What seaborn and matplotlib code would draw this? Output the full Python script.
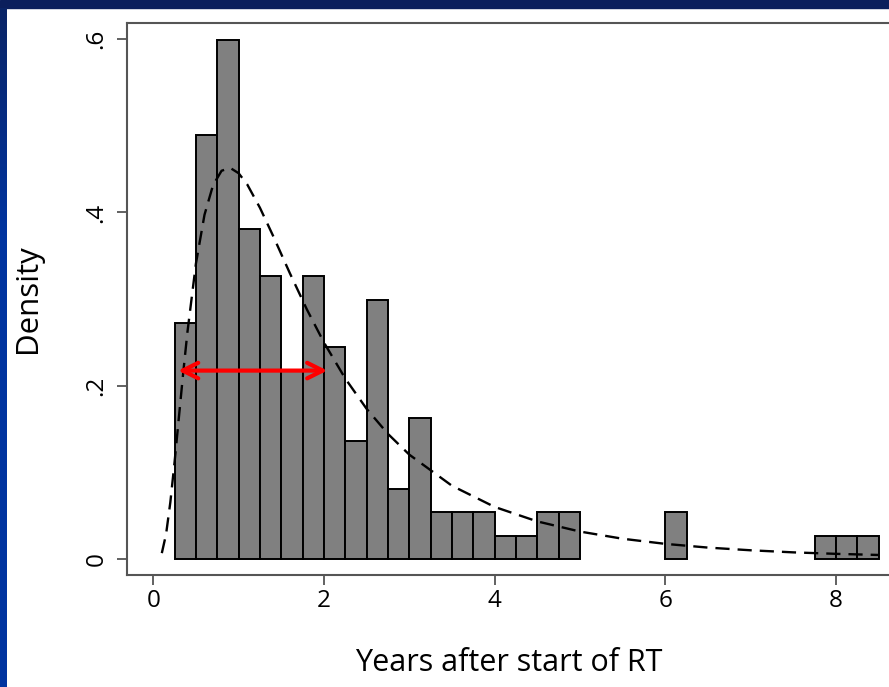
import numpy as np
import pandas as pd
import matplotlib
matplotlib.use("Agg")
import matplotlib.pyplot as plt
import seaborn as sns
from matplotlib.patches import Rectangle
from matplotlib.colors import LinearSegmentedColormap

# Histogram: left edge of each occupied 0.25-year bin and its patient count
bin_left = [0.25, 0.50, 0.75, 1.00, 1.25, 1.50, 1.75, 2.00, 2.25, 2.50, 2.75,
            3.00, 3.25, 3.50, 3.75, 4.00, 4.25, 4.50, 4.75, 6.00, 7.75, 8.00, 8.25]
bin_count = [10, 18, 22, 14, 12, 8, 12, 9, 5, 11, 3,
             6, 2, 2, 2, 1, 1, 2, 2, 2, 1, 1, 1]
BIN_WIDTH = 0.25

# Fitted density curve (dashed)
curve_x = [0.10, 0.15, 0.20, 0.25, 0.30, 0.35, 0.40, 0.50, 0.60, 0.70, 0.80,
           0.90, 1.00, 1.10, 1.25, 1.40, 1.60, 1.80, 2.00, 2.25, 2.50, 2.75,
           3.00, 3.50, 4.00, 4.50, 5.00, 5.50, 6.00, 6.50, 7.00, 7.50, 8.00, 8.50]
curve_y = [0.0071, 0.0290, 0.0659, 0.1126, 0.1636, 0.2143, 0.2618, 0.3412,
           0.3972, 0.4313, 0.4480, 0.4514, 0.4452, 0.4324, 0.4053, 0.3738,
           0.3300, 0.2881, 0.2500, 0.2084, 0.1735, 0.1446, 0.1207, 0.0848,
           0.0604, 0.0437, 0.0320, 0.0237, 0.0178, 0.0135, 0.0104, 0.0080,
           0.0063, 0.0050]

# Red double arrow marking the spread
spread_x = [0.29, 2.04]
spread_y = 0.2176

x_ticks = [0, 2, 4, 6, 8]
x_tick_labels = ["0", "2", "4", "6", "8"]
y_ticks = [0, 0.2, 0.4, 0.6]
y_tick_labels = ["0", ".2", ".4", ".6"]

sns.set_style("ticks")
plt.rcParams["font.family"] = ["Open Sans", "DejaVu Sans"]

W, H = 889, 687
fig = plt.figure(figsize=(W / 100, H / 100), dpi=100, facecolor="white")
ax = fig.add_axes([127 / W, 112 / H, 764 / W, 552 / H])
ax.set_facecolor("white")

hist_df = pd.DataFrame({"years": np.array(bin_left) + BIN_WIDTH / 2,
                        "n": bin_count})
sns.histplot(data=hist_df, x="years", weights="n", binwidth=BIN_WIDTH,
             binrange=(bin_left[0], bin_left[-1] + BIN_WIDTH), stat="density",
             color="#808080", edgecolor="black", linewidth=1.4, alpha=1,
             ax=ax, zorder=2)
for p in list(ax.patches):
    if p.get_height() <= 0:
        p.remove()

sns.lineplot(x=curve_x, y=curve_y, color="black", lw=1.7,
             linestyle=(0, (6, 3.4)), ax=ax, zorder=3)

ax.annotate("", xy=(spread_x[0], spread_y), xytext=(spread_x[1], spread_y),
            arrowprops=dict(arrowstyle="<->", color="#ff0000", lw=3,
                            mutation_scale=28, shrinkA=0, shrinkB=0),
            zorder=4)

ax.set_xlim(-0.308, 8.645)
ax.set_ylim(-0.0181, 0.6184)
ax.set_xticks(x_ticks, x_tick_labels)
ax.set_yticks(y_ticks, y_tick_labels)
for lab in ax.get_yticklabels():
    lab.set_rotation(90)
    lab.set_va("center")
ax.tick_params(axis="both", length=7.2, width=1.3, color="#555555",
               labelsize=17.5, labelcolor="black")
ax.tick_params(axis="x", pad=3)
ax.tick_params(axis="y", pad=6)
for s in ax.spines.values():
    s.set_color("#555555")
    s.set_linewidth(1.5)

ax.set_xlabel("Years after start of RT", fontsize=22, color="black")
ax.set_ylabel("Density", fontsize=22.5, color="black")
ax.xaxis.label.set_va("center")
ax.yaxis.label.set_va("center")
ax.xaxis.set_label_coords(0.5, (687 - 663 - 112) / 552)
ax.yaxis.set_label_coords((28 - 127) / 764, 0.5)

# Slide frame: dark band along the top, blue strip down the left edge
fig.add_artist(Rectangle((0, 1 - 8 / H), 1, 8 / H, transform=fig.transFigure,
                         color="#0b1f5c", zorder=10))
strip = fig.add_axes([0, 0, 7 / W, 1 - 8 / H], zorder=10)
shade = np.clip(np.linspace(0, 1, 300) * 3, 0, 1)[:, None]
strip.imshow(shade, aspect="auto",
             cmap=LinearSegmentedColormap.from_list("edge", ["#0a2466", "#0034a0"]),
             extent=(0, 1, 0, 1), origin="upper")
strip.axis("off")

fig.savefig("out.png", dpi=100, facecolor="white")
